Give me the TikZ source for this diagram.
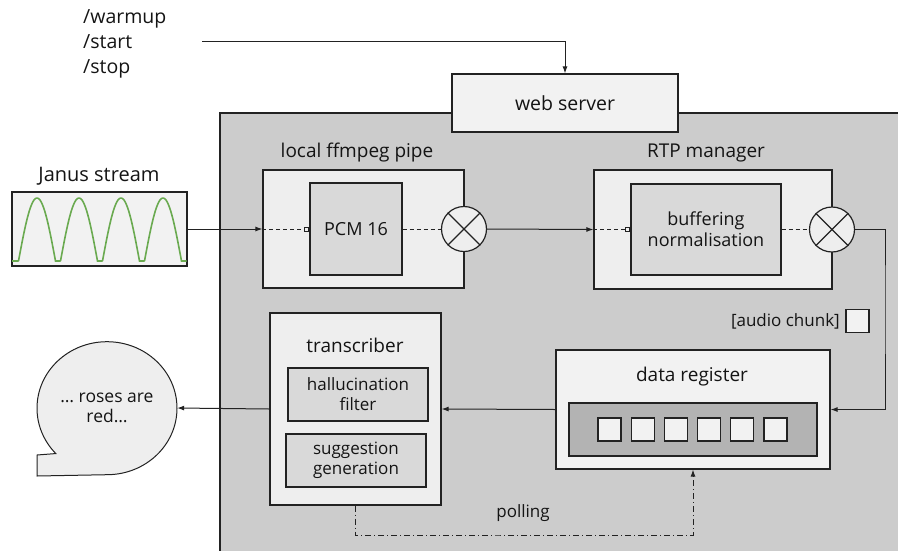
\documentclass[tikz,border=0pt]{standalone}
\usepackage{fontspec}
\setmainfont{Open Sans}
\usetikzlibrary{arrows.meta,shapes.geometric,calc,backgrounds}
\definecolor{bggrey}{HTML}{CCCCCC}
\definecolor{boxlight}{HTML}{EEEEEE}
\definecolor{boxpale}{HTML}{F2F2F2}
\definecolor{boxmid}{HTML}{D9D9D9}
\definecolor{boxdark}{HTML}{B3B3B3}
\definecolor{edge}{HTML}{222222}
\definecolor{wave}{RGB}{106,170,80}
\tikzset{
  every node/.style={font=\fontsize{18}{23}\selectfont, text=black!92},
  box/.style={draw=edge, line width=1.2pt, rectangle, inner sep=0pt},
  outerbox/.style={box, fill=boxlight},
  innerbox/.style={box, fill=boxmid, align=center},
  mixer/.style={draw=edge, line width=1.2pt, circle, fill=boxlight, minimum size=45pt, inner sep=0pt},
  chunk/.style={box, fill=boxpale, minimum width=23pt, minimum height=23pt},
  flow/.style={draw=edge, line width=1pt, -{Latex[length=7pt,width=5pt]}},
  dashflow/.style={draw=edge, line width=1pt, dash pattern=on 4pt off 3pt},
  portflow/.style={dashflow, -{Square[open,length=5pt,width=5pt,line width=1pt]}},
  pollflow/.style={draw=edge, line width=1pt, dash pattern=on 6pt off 3pt on 1pt off 3pt, -{Latex[length=7pt,width=5pt]}},
  title/.style={font=\fontsize{19}{23}\selectfont},
  small/.style={font=\fontsize{17}{21}\selectfont}
}
\begin{document}
\begin{tikzpicture}[x=1pt,y=-1pt]
\useasboundingbox (0,0) rectangle (898,550);
\clip (0,0) rectangle (898,550);
% background region
\path[fill=bggrey, draw=edge, line width=1.2pt] (220,113) rectangle (905,560);

% commands
\node[align=left, anchor=west, inner sep=0pt, font=\fontsize{19.5}{25}\selectfont] (cmds) at (83,44) {/warmup\\/start\\/stop};
\coordinate (cmdend) at (202,41);

% web server
\node[box, fill=boxpale, minimum width=226pt, minimum height=58pt, font=\fontsize{19.5}{23}\selectfont] (web) at (565,103) {web server};
\draw[flow] (cmdend) -| (web.north);

% Janus stream
\node[box, fill=boxpale, minimum width=175pt, minimum height=74pt] (janus) at (99.5,229) {};
\node[title, font=\fontsize{20}{23}\selectfont] (janustitle) at (99,176) {Janus stream};
\draw[wave, line width=1.6pt] (12,261) -- (18.5,261)
  \foreach \k in {0,1,2,3} {
    plot[domain=0:37, samples=30, smooth] ({18.5+42*\k+\x},{261-63*sin(180*\x/37)})
    -- ({60.5+42*\k},261)
  };

% ffmpeg pipe
\node[outerbox, minimum width=201pt, minimum height=118pt] (ffmpeg) at (363.5,229) {};
\node[title] (ffmpegtitle) at (357,153) {local ffmpeg pipe};
\node[innerbox, minimum width=92pt, minimum height=92pt] (pcm) at (356,229) {PCM 16};
\node[mixer] (mixa) at (464,229) {};
\draw[edge, line width=1.2pt] (mixa.45) -- (mixa.225) (mixa.135) -- (mixa.315);

% RTP manager
\node[outerbox, minimum width=238pt, minimum height=119pt] (rtp) at (713,229.5) {};
\node[title] (rtptitle) at (706,153) {RTP manager};
\node[innerbox, minimum width=150pt, minimum height=91pt] (buf) at (706,229.5) {buffering\\[-2pt]normalisation};
\node[mixer] (mixb) at (832,229.5) {};
\draw[edge, line width=1.2pt] (mixb.45) -- (mixb.225) (mixb.135) -- (mixb.315);

% flows top row
\draw[flow] (janus.east) -- (ffmpeg.west);
\draw[portflow] (ffmpeg.west) -- (pcm.west);
\draw[dashflow] (pcm.east) -- (mixa.west);
\draw[flow] (mixa.east) -- (rtp.west);
\draw[portflow] (rtp.west) -- (buf.west);
\draw[dashflow] (buf.east) -- (mixb.west);

% audio chunk legend
\node[chunk] (legend) at (857.5,321) {};
\node[small, anchor=east, inner sep=0pt] (legendtxt) at (840,321) {[audio chunk]};

% data register
\node[box, fill=boxpale, minimum width=274pt, minimum height=119pt] (dr) at (693,409.5) {};
\node[title] (drtitle) at (692,377) {data register};
\node[box, fill=boxdark, minimum width=248pt, minimum height=53pt] (queue) at (693,429.5) {};
\foreach \i in {0,...,5} {
  \node[chunk] (q\i) at ({609.5+33.2*\i},429.5) {};
}
\coordinate (rturn) at (885,300);
\draw[flow] (mixb.east) -| (rturn) |- (dr.east);

% transcriber
\node[box, fill=boxlight, minimum width=171pt, minimum height=192pt] (trans) at (355.5,409) {};
\node[title] (transtitle) at (355,345) {transcriber};
\node[innerbox, minimum width=140pt, minimum height=53pt, font=\fontsize{17}{20}\selectfont] (hall) at (358,394.5) {hallucination\\filter};
\node[innerbox, minimum width=140pt, minimum height=53pt, font=\fontsize{17}{20}\selectfont] (sugg) at (356,460.5) {suggestion\\generation};
\draw[flow] (dr.west) -- (trans.east);

% speech bubble
\node[ellipse, minimum width=140pt, minimum height=133pt, inner sep=0pt, align=center, font=\fontsize{17.5}{20}\selectfont] (bubble) at (107,408) {\dots{} roses are\\red\dots};
\begin{scope}[on background layer]
\draw[draw=edge, line width=1pt, fill=boxlight] (bubble.south) arc[start angle=90, end angle=-223, x radius=70, y radius=66.5] -- (37,455) -- (37,476) -- cycle;
\end{scope}
\draw[flow] (trans.west) -- (bubble.east);

% polling
\coordinate (pollc) at (500,535);
\draw[pollflow] (trans.south) |- (pollc) -| (dr.south);
\node[small] (polltxt) at (523,513) {polling};
\end{tikzpicture}
\end{document}
